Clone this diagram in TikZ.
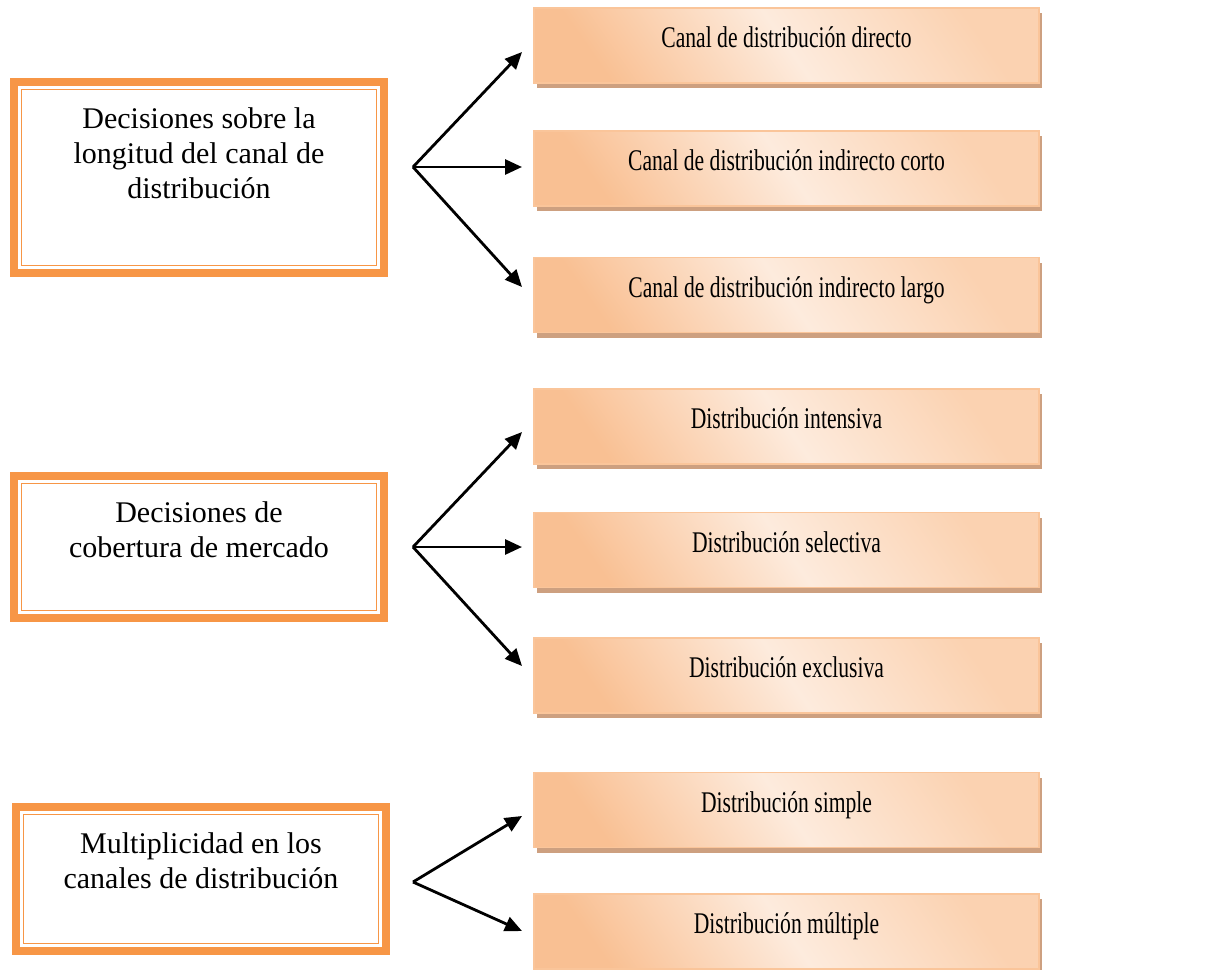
\documentclass[tikz,border=0pt]{standalone}
\usepackage{fontspec}
\setmainfont{Liberation Serif}
\newfontfamily\narrowserif[FakeStretch=0.72]{Liberation Serif}
\usepackage{tikz}
\usetikzlibrary{arrows.meta, calc, shadows}
\definecolor{decorange}{HTML}{F79646}
\definecolor{peachdark}{HTML}{F9C093}
\definecolor{peachlight}{HTML}{FDEBDD}
\definecolor{peachmid}{HTML}{FBD2B1}
\definecolor{peachedge}{HTML}{FAC59A}
\definecolor{shadowtan}{HTML}{CDA080}

\newcommand{\decpar}[2]{\parbox[c][#1][t]{180pt}{\centering\vspace*{13pt}#2}}

\begin{document}
\begin{tikzpicture}[x=0.5pt, y=-0.5pt,
  decbox/.style={draw=decorange, line width=4pt, inner sep=0pt,
                 minimum width=185pt, font=\fontsize{15}{17.5}\selectfont,
                 path picture={\draw[decorange, line width=0.75pt]
                   ([xshift=3.7pt,yshift=-3.7pt]path picture bounding box.north west)
                   rectangle
                   ([xshift=-3.7pt,yshift=3.7pt]path picture bounding box.south east);}},
  chan/.style={draw=peachedge, line width=0.6pt, top color=peachdark,
               bottom color=peachmid, middle color=peachlight,
               shading angle=125,
               minimum width=252.5pt, minimum height=37.5pt,
               inner sep=0pt, text height=9pt, text depth=7pt,
               font=\narrowserif\fontsize{15}{18}\selectfont,
               drop shadow={shadow xshift=1.5pt, shadow yshift=-2.5pt,
                            fill=shadowtan, opacity=1}},
  arr/.style={-{Triangle[length=8.5pt, width=7.5pt]}, line width=1.4pt}
]
\useasboundingbox (0,0) rectangle (1222,970);

% Decision boxes (left)
\node[decbox] (l1) at (199,177.5)
  {\decpar{95.5pt}{Decisiones sobre la\\longitud del canal de\\distribución}};
\node[decbox] (l2) at (199,547)
  {\decpar{71pt}{Decisiones de\\cobertura de mercado}};
\node[decbox] (l3) at (201,879)
  {\decpar{72pt}{Multiplicidad en los\\canales de distribución}};

% Channel options (right)
\node[chan] (c11) at (786.5,45.5) {Canal de distribución directo};
\node[chan] (c12) at (786.5,168.5) {Canal de distribución indirecto corto};
\node[chan] (c13) at (786.5,295) {Canal de distribución indirecto largo};
\node[chan] (c21) at (786.5,426.5) {Distribución intensiva};
\node[chan] (c22) at (786.5,550) {Distribución selectiva};
\node[chan] (c23) at (786.5,675.5) {Distribución exclusiva};
\node[chan] (c31) at (786.5,810) {Distribución simple};
\node[chan] (c32) at (786.5,931.5) {Distribución múltiple};

% Fan-out points and arrow ends
\coordinate (s1) at (413,167);
\coordinate (s2) at (413,547);
\coordinate (s3) at (413,882);
\coordinate (e11) at (522,52);
\coordinate (e12) at (522,167);
\coordinate (e13) at (522,287);
\coordinate (e21) at (522,432);
\coordinate (e22) at (522,547);
\coordinate (e23) at (522,666);
\coordinate (e31) at (522,816);
\coordinate (e32) at (522,931);

% Arrows
\foreach \e in {e11,e12,e13} \draw[arr] (s1) -- (\e);
\foreach \e in {e21,e22,e23} \draw[arr] (s2) -- (\e);
\foreach \e in {e31,e32} \draw[arr] (s3) -- (\e);

\end{tikzpicture}
\end{document}
